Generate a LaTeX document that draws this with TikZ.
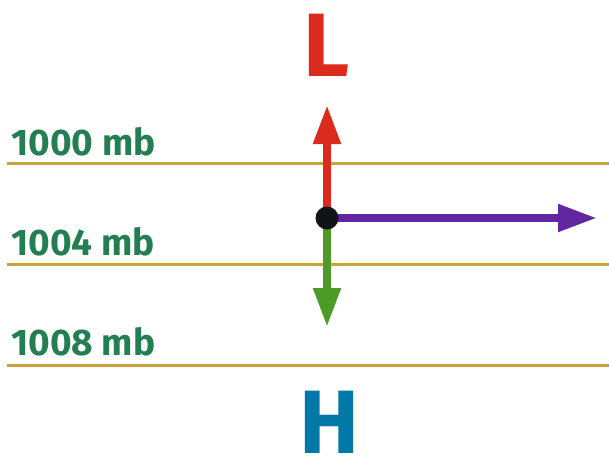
\documentclass[tikz,border=0pt]{standalone}
\usepackage{fontspec}
\setmainfont{Fira Sans}
\usetikzlibrary{arrows.meta}
\definecolor{lred}{HTML}{DD2A1E}
\definecolor{hblue}{HTML}{0079A8}
\definecolor{agreen}{HTML}{4E9A28}
\definecolor{apurple}{HTML}{6127A0}
\definecolor{lgreen}{HTML}{237E52}
\definecolor{gold}{HTML}{C8A43A}
\definecolor{dotblack}{HTML}{111416}
\tikzset{
  isobar/.style={draw=gold, line width=3pt},
  mblabel/.style={anchor=base west, inner sep=0pt, text=lgreen, font=\fontsize{37}{37}\selectfont\bfseries},
  vec/.style={line width=8pt, -{Triangle[length=39pt,width=26pt]}},
  bigletter/.style={anchor=base, inner sep=0pt, font=\fontsize{90}{90}\selectfont\bfseries}
}
\begin{document}
\begin{tikzpicture}[x=1pt,y=-1pt]
\useasboundingbox (0,0) rectangle (609,459);
\coordinate (l1a) at (7,163); \coordinate (l1b) at (609,163);
\coordinate (l2a) at (7,264); \coordinate (l2b) at (609,264);
\coordinate (l3a) at (7,365); \coordinate (l3b) at (609,365);
\draw[isobar] (l1a) -- (l1b);
\draw[isobar] (l2a) -- (l2b);
\draw[isobar] (l3a) -- (l3b);
\node[mblabel] (t1) at (11,155) {1000 mb};
\node[mblabel] (t2) at (11,255) {1004 mb};
\node[mblabel] (t3) at (11,355) {1008 mb};
\node[bigletter, text=lred] (L) at (327,76) {L};
\node[bigletter, text=hblue] (H) at (329,453) {H};
\coordinate (o) at (327,218);
\coordinate (up) at (327,105);
\coordinate (down) at (327,327);
\coordinate (right) at (597,218);
\draw[vec, draw=lred, fill=lred] (o) -- (up);
\draw[vec, draw=agreen, fill=agreen] (o) -- (down);
\draw[vec, draw=apurple, fill=apurple] (o) -- (right);
\fill[dotblack] (o) circle (11.5pt);
\end{tikzpicture}
\end{document}
